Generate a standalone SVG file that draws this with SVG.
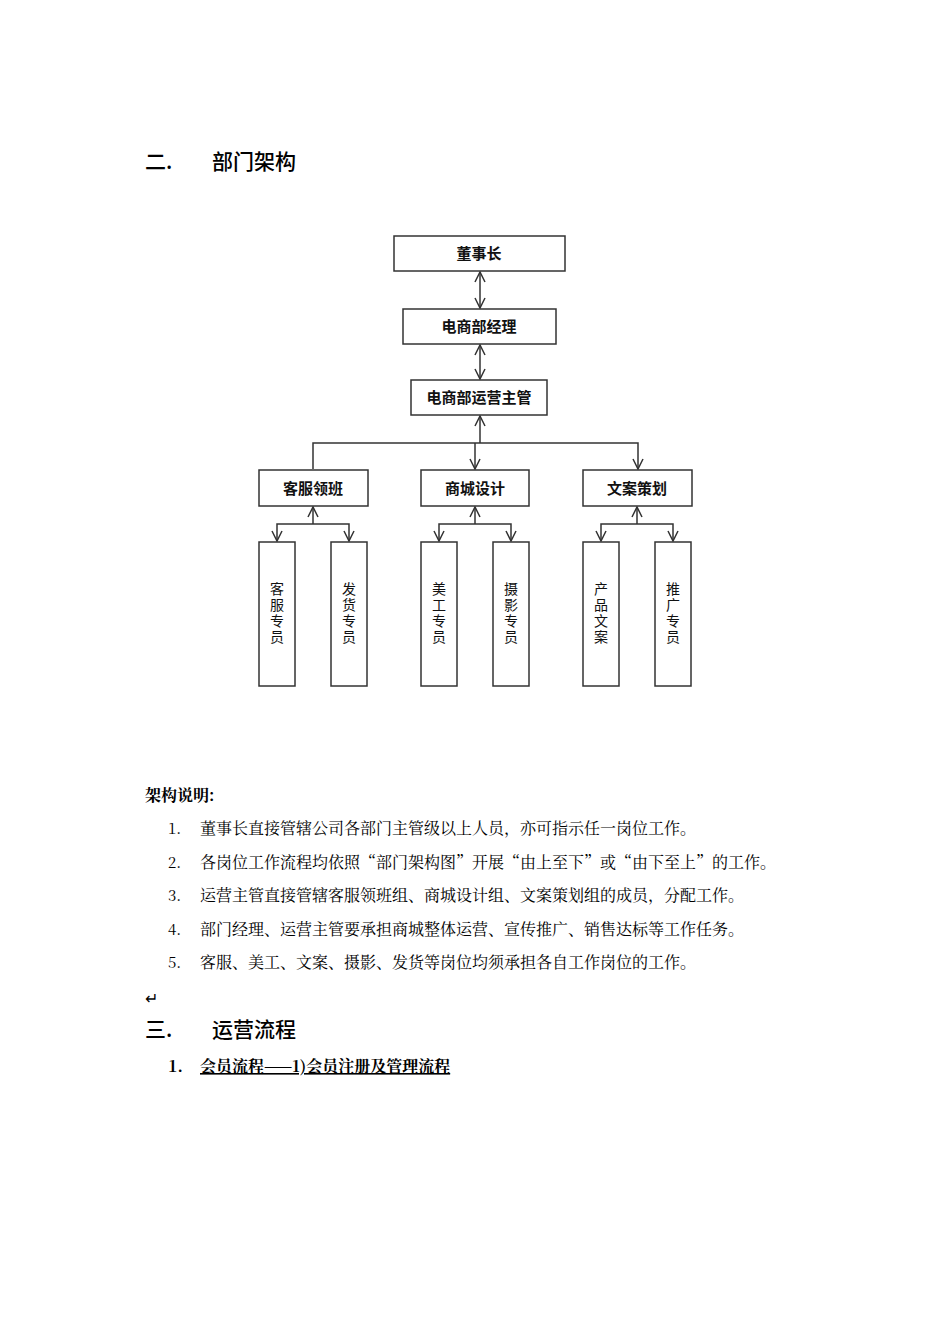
<svg xmlns="http://www.w3.org/2000/svg" width="950" height="1344" viewBox="0 0 950 1344">
<defs>
<style>
.b{fill:#fff;stroke:#333;stroke-width:1.5}
.t{font-family:"Noto Sans CJK SC",sans-serif;font-size:15px;font-weight:bold;fill:#111;text-anchor:middle}
.v{font-family:"Noto Sans CJK SC",sans-serif;font-size:14px;fill:#111;text-anchor:middle;writing-mode:vertical-rl;letter-spacing:2px}
.c{fill:none;stroke:#333;stroke-width:1.5}
.h{font-family:"Noto Sans CJK SC",sans-serif;font-size:21px;font-weight:500;fill:#000}
.p{font-family:"Noto Serif CJK SC","Liberation Serif","Noto Sans CJK SC",serif;font-size:16px;fill:#000}
</style>
<marker id="a" viewBox="0 0 12 12" refX="11" refY="6" markerWidth="12" markerHeight="12" markerUnits="userSpaceOnUse" orient="auto-start-reverse"><path d="M1 1L11 6L1 11" fill="none" stroke="#333" stroke-width="1.5"/></marker>
</defs>
<rect width="950" height="1344" fill="#fff"/>
<text class="h" x="145" y="169">二.</text><text class="h" x="212" y="169">部门架构</text>
<g id="connectors">
<path class="c" d="M480 272V308" marker-start="url(#a)" marker-end="url(#a)"/>
<path class="c" d="M480 345V379" marker-start="url(#a)" marker-end="url(#a)"/>
<path class="c" d="M480 443V416" marker-end="url(#a)"/>
<path class="c" d="M313 469V443H638V469" marker-end="url(#a)"/>
<path class="c" d="M475 443V469" marker-end="url(#a)"/>
<path class="c" d="M313 524V507" marker-end="url(#a)"/>
<path class="c" d="M277 541V524H349V541" marker-start="url(#a)" marker-end="url(#a)"/>
<path class="c" d="M475 524V507" marker-end="url(#a)"/>
<path class="c" d="M439 541V524H511V541" marker-start="url(#a)" marker-end="url(#a)"/>
<path class="c" d="M637 524V507" marker-end="url(#a)"/>
<path class="c" d="M601 541V524H673V541" marker-start="url(#a)" marker-end="url(#a)"/>
</g>
<g id="n1"><rect class="b" x="394" y="236" width="171" height="35"/><text class="t" x="479" y="259">董事长</text></g>
<g id="n2"><rect class="b" x="403" y="309" width="153" height="35"/><text class="t" x="479" y="332">电商部经理</text></g>
<g id="n3"><rect class="b" x="411" y="380" width="136" height="35"/><text class="t" x="479" y="403">电商部运营主管</text></g>
<g id="n4"><rect class="b" x="259" y="470" width="109" height="36"/><text class="t" x="313" y="494">客服领班</text></g>
<g id="n5"><rect class="b" x="421" y="470" width="108" height="36"/><text class="t" x="475" y="494">商城设计</text></g>
<g id="n6"><rect class="b" x="583" y="470" width="109" height="36"/><text class="t" x="637" y="494">文案策划</text></g>
<g id="s1"><rect class="b" x="259" y="542" width="36" height="144"/><text class="v" x="277" y="614">客服专员</text></g>
<g id="s2"><rect class="b" x="331" y="542" width="36" height="144"/><text class="v" x="349" y="614">发货专员</text></g>
<g id="s3"><rect class="b" x="421" y="542" width="36" height="144"/><text class="v" x="439" y="614">美工专员</text></g>
<g id="s4"><rect class="b" x="493" y="542" width="36" height="144"/><text class="v" x="511" y="614">摄影专员</text></g>
<g id="s5"><rect class="b" x="583" y="542" width="36" height="144"/><text class="v" x="601" y="614">产品文案</text></g>
<g id="s6"><rect class="b" x="655" y="542" width="36" height="144"/><text class="v" x="673" y="614">推广专员</text></g>
<text class="p" x="145" y="801" font-weight="bold">架构说明:</text>
<g class="p">
<text x="168" y="834" font-size="15">1.</text><text x="200" y="834">董事长直接管辖公司各部门主管级以上人员，亦可指示任一岗位工作。</text>
<text x="168" y="868" font-size="15">2.</text><text x="200" y="868">各岗位工作流程均依照“部门架构图”开展“由上至下”或“由下至上”的工作。</text>
<text x="168" y="901" font-size="15">3.</text><text x="200" y="901">运营主管直接管辖客服领班组、商城设计组、文案策划组的成员，分配工作。</text>
<text x="168" y="935" font-size="15">4.</text><text x="200" y="935">部门经理、运营主管要承担商城整体运营、宣传推广、销售达标等工作任务。</text>
<text x="168" y="968" font-size="15">5.</text><text x="200" y="968">客服、美工、文案、摄影、发货等岗位均须承担各自工作岗位的工作。</text>
</g>
<text class="p" x="145" y="1004" font-size="12">↵</text>
<text class="h" x="145" y="1037">三.</text><text class="h" x="212" y="1037">运营流程</text>
<text class="p" x="168" y="1072" font-weight="bold" font-size="15">1.</text>
<text class="p" x="200" y="1072" font-weight="bold" text-decoration="underline">会员流程——1)会员注册及管理流程</text>
</svg>
